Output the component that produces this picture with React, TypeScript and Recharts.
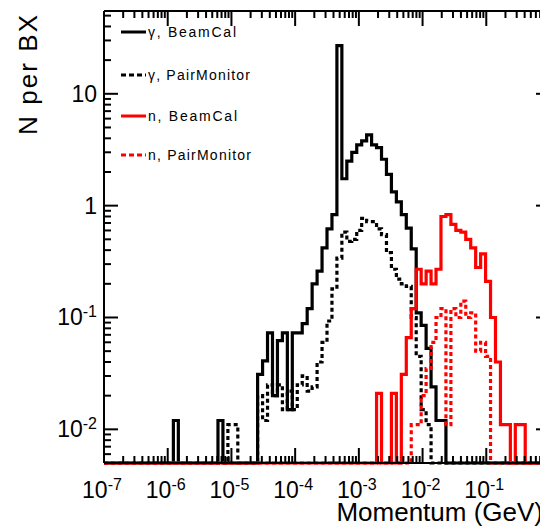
import React from 'react';
import { ComposedChart, Line, XAxis, YAxis, Legend, Label } from 'recharts';

// ---- axis ranges / binning ----
const X_MIN = 1e-7;
const X_MAX = 1;
const BIN_COUNT = 90;
const Y_MIN = 0.005;
const Y_MAX = 55;

// ---- tick labels (decade exponents) ----
const xMajorExponents = [-7, -6, -5, -4, -3, -2, -1, 0];
const yMajorExponents = [-2, -1, 0, 1];

// ---- series (values per bin; first bin index given) ----
const seriesNames = ['γ, BeamCal', 'γ, PairMonitor', 'n, BeamCal', 'n, PairMonitor'];

const gammaBeamCalFirstBin = 14;
const gammaBeamCal = [
  0.012, 0, 0, 0, 0, 0, 0, 0, 0,
  0.012, 0, 0, 0, 0, 0, 0, 0,
  0.031, 0.041, 0.073, 0.02, 0.062, 0.073, 0.015, 0.073, 0.073, 0.088,
  0.12, 0.2, 0.26, 0.42, 0.62, 0.83, 27, 1.74, 2.5, 3.0,
  3.5, 3.8, 4.3, 3.5, 3.3, 2.6, 1.9, 1.33, 1.08, 0.83,
  0.63, 0.41, 0.11, 0.085, 0.053, 0.024, 0.012, 0.012,
];

const gammaPairFirstBin = 25;
const gammaPair = [
  0.011, 0.011, 0, 0, 0, 0,
  0.02, 0.012, 0.025, 0.02, 0.025, 0.015, 0.022, 0.015, 0.025, 0.03,
  0.022, 0.024, 0.04, 0.06, 0.093, 0.18, 0.34, 0.58, 0.48, 0.5,
  0.6, 0.77, 0.72, 0.72, 0.62, 0.55, 0.38, 0.27, 0.22, 0.2,
  0.19, 0.1, 0.045, 0.015, 0.011,
];

const neutronBeamCalFirstBin = 55;
const neutronBeamCal = [
  0.021, 0, 0, 0.021, 0, 0.031, 0.066, 0.12, 0.27, 0.2,
  0.26, 0.2, 0.27, 0.8, 0.83, 0.68, 0.6, 0.58, 0.5, 0.42,
  0.28, 0.37, 0.21, 0.1, 0.04, 0.011, 0.011, 0, 0.011, 0.011,
];

const neutronPairFirstBin = 62;
const neutronPair = [
  0.011, 0.011, 0.02, 0.035, 0.06, 0.1, 0.12, 0.011, 0.12, 0.1,
  0.14, 0.1, 0.11, 0.05, 0.06, 0.045,
];

// ---- layout ----
const W = 545;
const H = 522;
const PLOT_LEFT = 96;
const PLOT_TOP = 3;
const PLOT_RIGHT = 542;
const PLOT_BOTTOM = 455;
const FONT = '"Liberation Sans", Arial, Helvetica, sans-serif';
const TICK_W = 2;

const seriesStyle = [
  { key: 'gb', color: '#000000', dash: undefined as string | undefined },
  { key: 'gp', color: '#000000', dash: '4 3' },
  { key: 'nb', color: '#ff0000', dash: undefined as string | undefined },
  { key: 'np', color: '#ff0000', dash: '4 3' },
];

const binValue = (arr: number[], first: number, bin: number) => {
  const j = bin - first;
  const v = j >= 0 && j < arr.length ? arr[j] : 0;
  return v > Y_MIN ? v : Y_MIN;
};

const lmin = Math.log10(X_MIN);
const lmax = Math.log10(X_MAX);
const data = Array.from({ length: BIN_COUNT + 1 }, (_, i) => {
  const b = Math.min(i, BIN_COUNT - 1);
  return {
    x: Math.pow(10, lmin + ((lmax - lmin) * i) / BIN_COUNT),
    gb: binValue(gammaBeamCal, gammaBeamCalFirstBin, b),
    gp: binValue(gammaPair, gammaPairFirstBin, b),
    nb: binValue(neutronBeamCal, neutronBeamCalFirstBin, b),
    np: binValue(neutronPair, neutronPairFirstBin, b),
  };
});

const xTicks: number[] = [];
xMajorExponents.forEach((e) => {
  xTicks.push(Math.pow(10, e));
  if (e < 0) for (let k = 2; k <= 9; k++) xTicks.push(k * Math.pow(10, e));
});
const yTicks: number[] = [];
[6, 7, 8, 9].forEach((k) => yTicks.push(k * 1e-3));
yMajorExponents.forEach((e) => {
  yTicks.push(Math.pow(10, e));
  for (let k = 2; k <= 9; k++) {
    const v = k * Math.pow(10, e);
    if (v <= Y_MAX) yTicks.push(v);
  }
});

const isMajor = (v: number) => {
  const l = Math.log10(v);
  return Math.abs(l - Math.round(l)) < 1e-9;
};

const PowLabel = ({ v }: { v: number }) => {
  const e = Math.round(Math.log10(v));
  if (e === 0) return <tspan>1</tspan>;
  if (e === 1) return <tspan>10</tspan>;
  return (
    <>
      <tspan>10</tspan>
      <tspan dy={-8} fontSize={16}>{String(e)}</tspan>
    </>
  );
};

const bottomTick = (props: any) => {
  const { x, payload } = props;
  const v = payload.value;
  const major = isMajor(v);
  const len = major ? 15 : 7;
  return (
    <g>
      <line x1={x} x2={x} y1={PLOT_BOTTOM} y2={PLOT_BOTTOM - len} stroke="#000" strokeWidth={TICK_W} />
      {major && (
        <text x={x - 2} y={PLOT_BOTTOM + 35} textAnchor="middle" fontSize={23} fontFamily={FONT} fill="#000">
          <PowLabel v={v} />
        </text>
      )}
    </g>
  );
};

const topTick = (props: any) => {
  const { x, payload } = props;
  const len = isMajor(payload.value) ? 15 : 7;
  return <line x1={x} x2={x} y1={PLOT_TOP} y2={PLOT_TOP + len} stroke="#000" strokeWidth={TICK_W} />;
};

const leftTick = (props: any) => {
  const { y, payload } = props;
  const v = payload.value;
  const major = isMajor(v);
  const len = major ? 14 : 7;
  return (
    <g>
      <line x1={PLOT_LEFT} x2={PLOT_LEFT + len} y1={y} y2={y} stroke="#000" strokeWidth={TICK_W} />
      {major && (
        <text x={PLOT_LEFT - 7} y={y + 8} textAnchor="end" fontSize={23} fontFamily={FONT} fill="#000">
          <PowLabel v={v} />
        </text>
      )}
    </g>
  );
};

const rightTick = (props: any) => {
  const { y, payload } = props;
  const len = isMajor(payload.value) ? 14 : 7;
  return <line x1={PLOT_RIGHT} x2={PLOT_RIGHT - len} y1={y} y2={y} stroke="#000" strokeWidth={TICK_W} />;
};

const legendRows = [
  { y: 24, width: 88 },
  { y: 67, width: 102 },
  { y: 108, width: 89 },
  { y: 147, width: 103 },
];

const LegendBox = () => (
  <svg width={300} height={170} style={{ position: 'absolute', left: 0, top: 0, overflow: 'visible' }}>
    {seriesNames.map((name, i) => (
      <g key={name}>
        <line x1={113} x2={138} y1={legendRows[i].y} y2={legendRows[i].y} stroke={seriesStyle[i].color} strokeWidth={3} strokeDasharray={seriesStyle[i].dash ? '5 3' : undefined} />
        <text x={140} y={legendRows[i].y + 5} fontSize={14} fontFamily={FONT} fill="#000" textLength={legendRows[i].width} lengthAdjust="spacing">
          {name}
        </text>
      </g>
    ))}
  </svg>
);

const XTitle = () => (
  <text x={535} y={513} textAnchor="end" fontSize={26} fontFamily={FONT} fill="#000">
    Momentum (GeV)
  </text>
);

const YTitle = () => (
  <text x={29} y={7} transform="rotate(-90, 29, 7)" textAnchor="end" fontSize={26} fontFamily={FONT} fill="#000" textLength={120} lengthAdjust="spacing">
    N per BX
  </text>
);

export default function App() {
  return (
    <div style={{ width: 540, height: H, overflow: 'hidden', background: '#fff' }}>
      <ComposedChart width={W} height={H} data={data} margin={{ top: PLOT_TOP - 1, right: W - PLOT_RIGHT - 1, left: 0, bottom: 0 }}>
        <XAxis dataKey="x" type="number" scale="log" domain={[X_MIN, X_MAX]} ticks={xTicks} interval={0} tick={bottomTick} tickLine={false} axisLine={{ stroke: '#000', strokeWidth: 2 }} height={H - PLOT_BOTTOM}>
          <Label content={<XTitle />} />
        </XAxis>
        <XAxis xAxisId="top" orientation="top" dataKey="x" type="number" scale="log" domain={[X_MIN, X_MAX]} allowDataOverflow ticks={xTicks} interval={0} tick={topTick} tickLine={false} axisLine={{ stroke: '#000', strokeWidth: 2 }} height={1} />
        <YAxis type="number" scale="log" domain={[Y_MIN, Y_MAX]} ticks={yTicks} interval={0} tick={leftTick} tickLine={false} axisLine={{ stroke: '#000', strokeWidth: 2 }} width={PLOT_LEFT}>
          <Label content={<YTitle />} />
        </YAxis>
        <YAxis yAxisId="right" orientation="right" type="number" scale="log" domain={[Y_MIN, Y_MAX]} allowDataOverflow ticks={yTicks} interval={0} tick={rightTick} tickLine={false} axisLine={{ stroke: '#000', strokeWidth: 2 }} width={1} />
        <Legend content={() => <LegendBox />} wrapperStyle={{ left: 0, top: 0, width: 0, height: 0, overflow: 'visible' }} />
        {seriesStyle.map((s, i) => (
          <Line key={s.key} name={seriesNames[i]} dataKey={s.key} type="stepAfter" stroke={s.color} strokeWidth={3.2} strokeDasharray={s.dash} dot={false} activeDot={false} isAnimationActive={false} />
        ))}
      </ComposedChart>
    </div>
  );
}
